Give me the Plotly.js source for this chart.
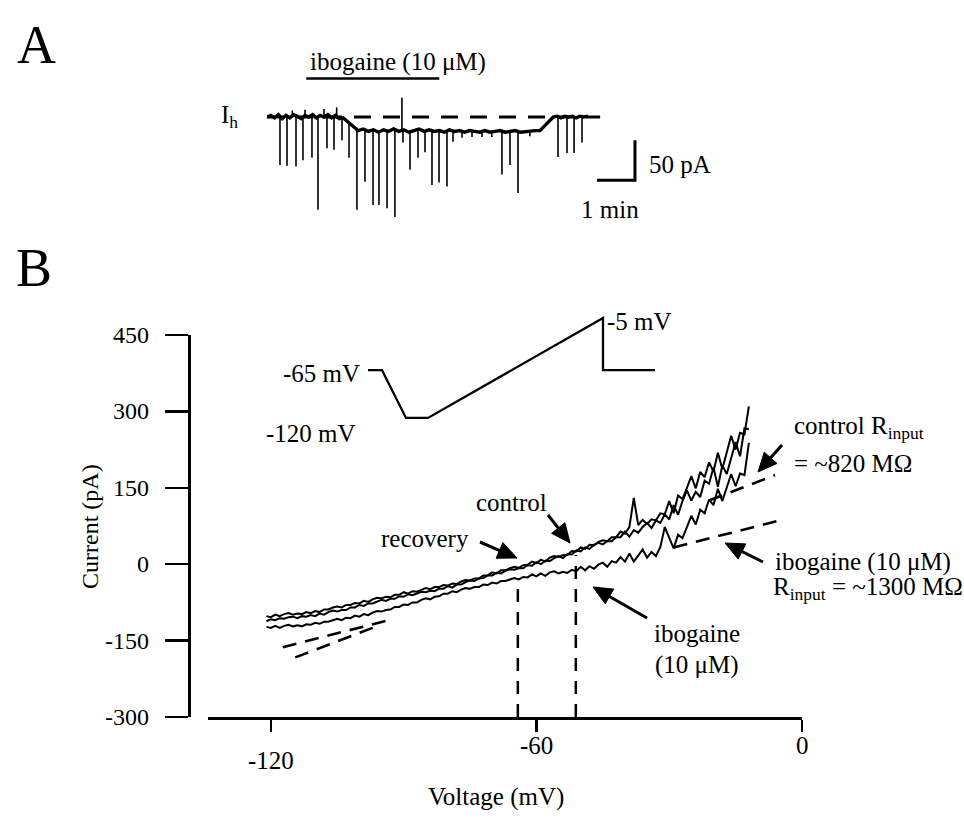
<!DOCTYPE html>
<html><head><meta charset="utf-8">
<script src="https://cdn.plot.ly/plotly-3.0.1.min.js"></script>
<style>html,body{margin:0;padding:0;background:#fff}#chart{width:964px;height:819px}</style>
</head><body><div id="chart"></div>
<script>
// ===== Panel A: holding current trace (time in s, current in pA re. holding level) =====
const baseTimeA = [0,6,12,18,24,30,36,42,48,54,60,66,72,78,84,90,96,102,108,114,120,126,132,138,144,152,160,168,176,184,192,200,208,216,224,232,240,248,256,264,272,280,288,296,304,312,320,328,336,344,352,360,368,376,384,392,400,408,416,424,431,436,442,447,452,458,464,470,476,482,488,494,500,507];
const baseCurrentA = [0,2,-1,3,-2,2,-1,3,1,-2,2,0,3,-1,2,0,3,-1,2,-2,-1,-5,-10,-14,-17,-15,-18,-16,-19,-16,-18,-15,-18,-16,-19,-17,-15,-18,-16,-18,-17,-19,-16,-18,-17,-19,-17,-18,-19,-17,-19,-18,-17,-19,-18,-17,-19,-18,-18,-17,-17,-13,-7,-3,0,1,-1,1,0,1,-1,1,0,1];
const spikeTimeA = [20.5,31.6,40,45.8,56.8,60,71,80.5,90,94.7,105.8,110,118.4,129.5,142,154.7,167.4,176.8,189.5,202,213,214.7,225.8,238.4,249.5,260.5,271.6,284.2,293.7,308,323.7,339.5,355,371,383.7,396.3,415,459.5,473.7,484.8,497.4];
const spikePeakA = [-60,-61,8,-62,-54,9,-51,-116,10,-39,-41,12,-29,-51,-116,-81,-110,-110,-114,-125,24,-32,-66,-51,-44,-85,-82,-87,-31,-26,-25,-25,-25,-72,-60,-95,-24,-50,-45,-45,-32];
const spikeBaseA = [0,0,0,0,0,0,0,0,0,0,0,0,0,-8,-17,-17,-17,-17,-17,-17,-17,-17,-17,-17,-17,-17,-17,-17,-17,-17,-17,-17,-17,-17,-17,-17,-17,0,0,0,0];
const holdLineT = [0, 526];
const holdLineI = [0, 0];
const drugBarT = [62, 272];
const drugBarI = [48, 48];
const scaleOrigin = [521, -79];   // s, pA
const scaleLenT = 60;             // 1 min
const scaleLenI = 50;             // 50 pA

// ===== Panel B: I-V relations (ramp voltage in mV, current in pA) =====
const rampV = [-121,-120,-119,-118,-117,-116,-115,-114,-113,-112,-111,-110,-109,-108,-107,-106,-105,-104,-103,-102,-101,-100,-99,-98,-97,-96,-95,-94,-93,-92,-91,-90,-89,-88,-87,-86,-85,-84,-83,-82,-81,-80,-79,-78,-77,-76,-75,-74,-73,-72,-71,-70,-69,-68,-67,-66,-65,-64,-63,-62,-61,-60,-59,-58,-57,-56,-55,-54,-53,-52,-51,-50,-49,-48,-47,-46,-45,-44,-43,-42,-41,-40,-39,-38,-37,-36,-35,-34,-33,-32,-31,-30,-29,-28,-27,-26,-25,-24,-23,-22,-21,-20,-19,-18,-17,-16,-15,-14,-13,-12];
const controlI = [-102,-104,-99,-102,-98,-96,-99,-97,-98,-94,
 -96,-92,-94,-89,-89,-85,-83,-85,-80,-80,
 -76,-77,-72,-74,-69,-66,-67,-64,-65,-60,
 -60,-55,-58,-53,-54,-50,-47,-49,-45,-45,
 -41,-42,-38,-39,-34,-31,-32,-28,-28,-22,
 -22,-16,-18,-12,-12,-8,-5,-7,-2,-1,
 5,2,9,5,13,16,14,18,18,26,
 25,33,30,38,37,44,47,45,53,53,
 64,60,73,130,77,87,79,88,86,100,
 98,124,100,135,128,150,173,149,181,171,
 200,182,219,187,220,252,225,258,255,310];
const recoveryI = [-112,-108,-110,-106,-107,-104,-103,-106,-102,-103,
 -100,-102,-97,-99,-94,-91,-93,-90,-90,-85,
 -85,-80,-82,-77,-77,-73,-70,-72,-68,-68,
 -63,-64,-59,-61,-57,-54,-55,-52,-53,-48,
 -48,-43,-46,-40,-40,-35,-32,-33,-28,-27,
 -22,-22,-17,-18,-13,-10,-11,-8,-8,-2,
 -3,4,0,7,6,12,16,12,20,19,
 27,25,33,30,38,42,39,45,45,53,
 53,64,54,67,62,73,81,71,86,81,
 98,88,116,97,124,145,125,142,132,164,
 158,190,152,194,177,208,240,212,267,265];
const ibogaineI = [-123,-125,-121,-125,-121,-119,-122,-120,-122,-118,
 -119,-115,-117,-113,-113,-110,-107,-110,-105,-106,
 -101,-103,-98,-100,-95,-92,-93,-90,-89,-84,
 -84,-79,-80,-75,-75,-70,-67,-69,-64,-63,
 -58,-58,-53,-55,-50,-47,-48,-45,-45,-40,
 -41,-36,-38,-33,-33,-30,-27,-30,-25,-26,
 -20,-24,-18,-23,-16,-14,-18,-15,-17,-11,
 -14,-5,-12,-4,-9,-1,3,-5,6,3,
 14,5,21,5,18,29,13,24,16,34,
 73,52,31,58,51,73,95,78,107,100,
 127,116,148,124,152,177,153,178,175,238];
// linear fits (visible segments)
const controlFitV = [-114.5, -97, null, -21, -6.1];
const controlFitI = [-183, -125, null, 125, 175];
const ibogaineFitV = [-117.3, -93, null, -29, -4.5];
const ibogaineFitI = [-163, -109, null, 33, 87];
// reversal markers
const reversalV = [-64.2, -51.1];
const reversalTopI = [-41, 18];
// axis ticks
const xTicks = [-120, -60, 0];
const yTicks = [-300, -150, 0, 150, 300, 450];

// ===== Inset: voltage protocol =====
const protocolTimeMs = [0, 140, 380, 600, 2350, 2350, 2870];
const protocolV = [-65, -65, -120, -120, -5, -65, -65];

// ---------------- build ----------------
const W = 964, H = 819;
const fx = px => px / W, fy = py => 1 - py / H;
const FONT = 'Liberation Serif, Times New Roman, serif';
const K = '#000';

const spikeX = [], spikeY = [];
spikeTimeA.forEach((t, i) => { spikeX.push(t, t, null); spikeY.push(spikeBaseA[i], spikePeakA[i], null); });

const revX = [], revY = [];
reversalV.forEach((v, i) => { revX.push(v, v, null); revY.push(-300, reversalTopI[i], null); });

const traces = [
  // Panel A
  {x: holdLineT, y: holdLineI, xaxis: 'x2', yaxis: 'y2', mode: 'lines', line: {color: K, width: 3, dash: '17px,12px'}, hoverinfo: 'skip'},
  {x: spikeX, y: spikeY, xaxis: 'x2', yaxis: 'y2', mode: 'lines', line: {color: K, width: 1.6}, hoverinfo: 'skip'},
  {x: baseTimeA, y: baseCurrentA, xaxis: 'x2', yaxis: 'y2', mode: 'lines', line: {color: K, width: 3.4}, hoverinfo: 'skip'},
  {x: drugBarT, y: drugBarI, xaxis: 'x2', yaxis: 'y2', mode: 'lines', line: {color: K, width: 2.5}, hoverinfo: 'skip'},
  {x: [scaleOrigin[0], scaleOrigin[0] + scaleLenT, scaleOrigin[0] + scaleLenT],
   y: [scaleOrigin[1], scaleOrigin[1], scaleOrigin[1] + scaleLenI],
   xaxis: 'x2', yaxis: 'y2', mode: 'lines', line: {color: K, width: 3}, hoverinfo: 'skip'},
  // Panel B
  {x: controlFitV, y: controlFitI, mode: 'lines', line: {color: K, width: 2.6, dash: '14px,9px'}, hoverinfo: 'skip', connectgaps: false},
  {x: ibogaineFitV, y: ibogaineFitI, mode: 'lines', line: {color: K, width: 2.6, dash: '14px,9px'}, hoverinfo: 'skip', connectgaps: false},
  {x: revX, y: revY, mode: 'lines', line: {color: K, width: 2.5, dash: '13px,10px'}, hoverinfo: 'skip'},
  {x: rampV, y: ibogaineI, mode: 'lines', line: {color: K, width: 2}, name: 'ibogaine'},
  {x: rampV, y: recoveryI, mode: 'lines', line: {color: K, width: 2}, name: 'recovery'},
  {x: rampV, y: controlI, mode: 'lines', line: {color: K, width: 2}, name: 'control'},
  // Inset
  {x: protocolTimeMs, y: protocolV, xaxis: 'x3', yaxis: 'y3', mode: 'lines', line: {color: K, width: 2.3}, hoverinfo: 'skip'}
];

const hidden = {visible: false, fixedrange: true};
const tf = {family: FONT, size: 25, color: K};
const tfTick = {family: FONT, size: 24, color: K};

function lab(text, px, py, xanchor, size, extra) {
  return Object.assign({text, xref: 'paper', yref: 'paper', x: fx(px), y: fy(py), xanchor: xanchor || 'center', yanchor: 'middle',
    showarrow: false, font: {family: FONT, size: size || 25, color: K}}, extra || {});
}
// pointer arrows drawn as shapes (shaft + filled head), positions in page pixels
function arrowShapes(hx, hy, tx, ty) {
  const dx = hx - tx, dy = hy - ty, L = Math.hypot(dx, dy), ux = dx / L, uy = dy / L;
  const hl = 19, hw = 8.5;
  const bx = hx - ux * hl, by = hy - uy * hl;
  const p = (x, y) => fx(x) + ',' + fy(y);
  return [
    {type: 'line', xref: 'paper', yref: 'paper', x0: fx(tx), y0: fy(ty), x1: fx(bx + ux * 2), y1: fy(by + uy * 2), line: {color: K, width: 3}},
    {type: 'path', xref: 'paper', yref: 'paper', fillcolor: K, line: {color: K, width: 1},
     path: 'M' + p(hx, hy) + 'L' + p(bx - uy * hw, by + ux * hw) + 'L' + p(bx + uy * hw, by - ux * hw) + 'Z'}
  ];
}
// tick labels (the reference draws the -120 label a little lower than the others)
const xTickLabelY = [760, 745, 745];
const xTickAnns = xTicks.map((v, i) => ({text: String(v), xref: 'x', yref: 'paper', x: v, y: fy(xTickLabelY[i]),
  xanchor: 'center', yanchor: 'middle', showarrow: false, font: tf}));
const yTickAnns = yTicks.map(v => ({text: String(v), xref: 'paper', yref: 'y', x: fx(151), y: v,
  xanchor: 'right', yanchor: 'middle', showarrow: false, font: tfTick}));

const layout = {
  width: W, height: H, margin: {l: 0, r: 0, t: 0, b: 0}, paper_bgcolor: '#fff', plot_bgcolor: 'rgba(0,0,0,0)',
  showlegend: false, font: tf,
  xaxis: {domain: [fx(208), fx(802)], range: [-134.2, 0], anchor: 'y', showline: true, linewidth: 2.5, linecolor: K,
    ticks: 'outside', ticklen: 12, tickwidth: 2.2, tickcolor: K, tickvals: xTicks, showticklabels: false,
    showgrid: false, zeroline: false, fixedrange: true},
  yaxis: {domain: [fy(717), fy(335)], range: [-300, 450], anchor: 'free', position: fx(189), showline: true, linewidth: 2.5, linecolor: K,
    ticks: 'outside', ticklen: 23, tickwidth: 2.2, tickcolor: K, tickvals: yTicks, showticklabels: false,
    showgrid: false, zeroline: false, fixedrange: true},
  xaxis2: Object.assign({domain: [fx(267), fx(647)], range: [0, 600], anchor: 'y2'}, hidden),
  yaxis2: Object.assign({domain: [fy(221), fy(69)], range: [-130, 60], anchor: 'x2'}, hidden),
  xaxis3: Object.assign({domain: [fx(368), fx(655)], range: [0, 2870], anchor: 'y3'}, hidden),
  yaxis3: Object.assign({domain: [fy(422.3), fy(313.6)], range: [-125, 0], anchor: 'x3'}, hidden),
  shapes: [].concat(
    arrowShapes(570, 543, 548, 515),
    arrowShapes(517, 558, 480, 542),
    arrowShapes(593, 587, 647, 618),
    arrowShapes(758, 472, 782, 445),
    arrowShapes(725, 543, 763, 562)
  ),
  annotations: xTickAnns.concat(yTickAnns, [
    lab('A', 36, 45, 'center', 54),
    lab('B', 34, 268, 'center', 54),
    lab('ibogaine (10 \u03bcM)', 398, 62),
    lab('I<sub>h</sub>', 219, 117, 'left'),
    lab('50 pA', 647, 165, 'left'),
    lab('1 min', 610, 210),
    lab('-65 mV', 362, 374, 'right'),
    lab('-120 mV', 358, 433, 'right'),
    lab('-5 mV', 605, 322, 'left'),
    lab('control', 511, 502),
    lab('recovery', 425, 538),
    lab('ibogaine', 697, 633),
    lab('(10 \u03bcM)', 697, 665),
    lab('control R<sub>input</sub>', 792, 427, 'left'),
    lab('= ~820 M\u03a9', 792, 463, 'left'),
    lab('ibogaine (10 \u03bcM)', 773, 562, 'left'),
    lab('R<sub>input</sub> = ~1300 M\u03a9', 771, 588, 'left'),
    lab('Voltage (mV)', 496, 797),
    lab('Current (pA)', 90, 527, 'center', 24, {textangle: -90})
  ])
};

Plotly.newPlot('chart', traces, layout, {staticPlot: true, displayModeBar: false});
</script></body></html>
